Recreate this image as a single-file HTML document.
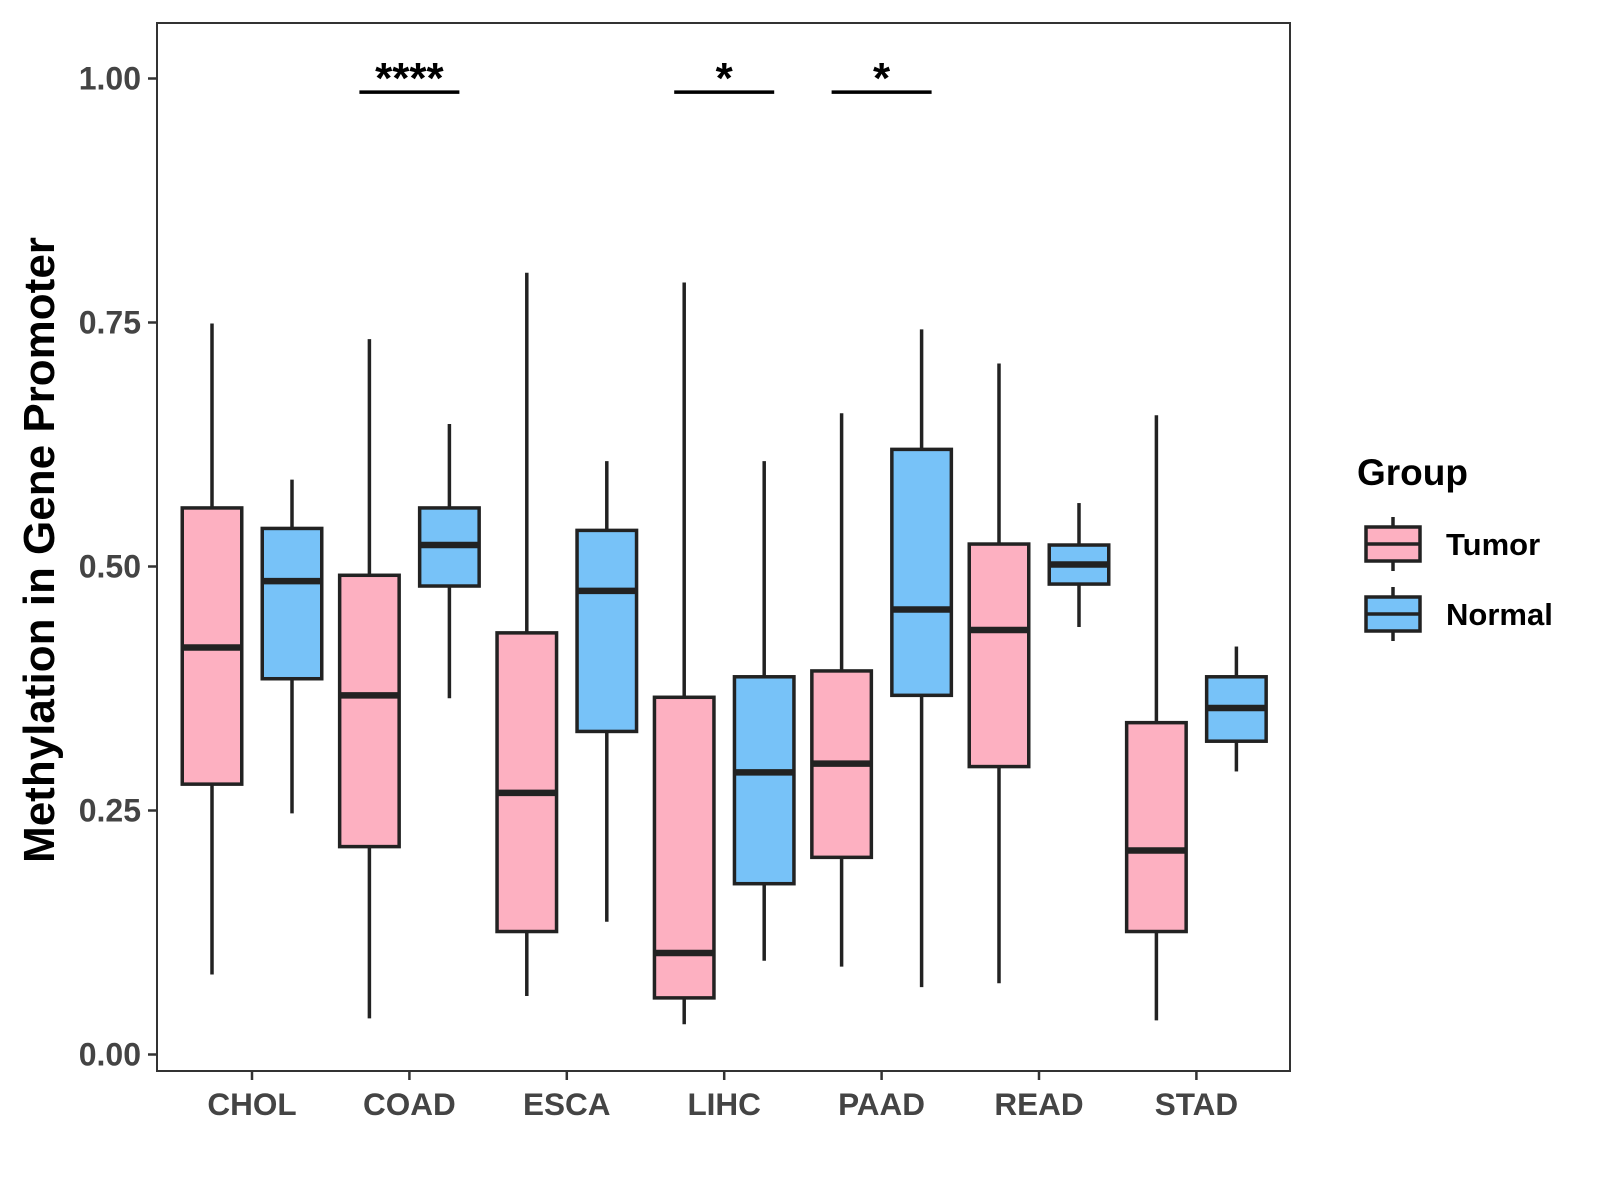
<!DOCTYPE html>
<html><head><meta charset="utf-8"><style>
body{margin:0;background:#fff}
svg{display:block;font-family:"Liberation Sans",Arial,sans-serif}
</style></head><body>
<svg id="chart" width="1600" height="1200"></svg>
<script>
const categories=["CHOL","COAD","ESCA","LIHC","PAAD","READ","STAD"];
const tumorLow=[0.082,0.037,0.060,0.031,0.090,0.073,0.035];
const tumorQ1=[0.277,0.213,0.126,0.058,0.202,0.295,0.126];
const tumorMed=[0.417,0.368,0.268,0.104,0.298,0.435,0.209];
const tumorQ3=[0.560,0.491,0.432,0.366,0.393,0.523,0.340];
const tumorHigh=[0.749,0.733,0.801,0.791,0.657,0.708,0.655];
const normalLow=[0.247,0.365,0.136,0.096,0.069,0.438,0.290];
const normalQ1=[0.385,0.480,0.331,0.175,0.368,0.482,0.321];
const normalMed=[0.485,0.522,0.475,0.289,0.456,0.502,0.355];
const normalQ3=[0.539,0.560,0.537,0.387,0.620,0.522,0.387];
const normalHigh=[0.589,0.646,0.608,0.608,0.743,0.565,0.418];
const yTicks=[0,0.25,0.5,0.75,1.0];
const yTickLabels=["0.00","0.25","0.50","0.75","1.00"];
const sigCats=["COAD","LIHC","PAAD"];
const sigLabels=["****","*","*"];

const NS="http://www.w3.org/2000/svg";
const svg=document.getElementById('chart');
const L=157,T=23,R=1290,B=1071;
const y=v=>1054.5-v*976;
const x=i=>252+i*157.4;
function el(tag,a,parent){const e=document.createElementNS(NS,tag);for(const k in a)e.setAttribute(k,a[k]);(parent||svg).appendChild(e);return e;}

const frame=el('rect',{x:L,y:T,width:R-L,height:B-T,fill:'none',stroke:'#333',"stroke-width":2});



yTicks.forEach((t,i)=>{
  const g=el('g',{});
  
  
  el('line',{x1:L-9,x2:L,y1:y(t),y2:y(t),stroke:'#333',"stroke-width":2.5},g);
  const tx=el('text',{x:L-16,y:y(t)+11,"text-anchor":"end","font-size":32,"font-weight":"bold",fill:'#444'},g);
  tx.textContent=yTickLabels[i];
});
categories.forEach((c,i)=>{
  const g=el('g',{});
  
  
  el('line',{x1:x(i),x2:x(i),y1:B,y2:B+9,stroke:'#333',"stroke-width":2.5},g);
  const tx=el('text',{x:x(i),y:B+44,"text-anchor":"middle","font-size":31.5,"font-weight":"bold",fill:'#444'},g);
  tx.textContent=c;
});
const yt=el('text',{x:0,y:0,transform:"translate(54,550) rotate(-90)","text-anchor":"middle","font-size":44,"font-weight":"bold",fill:'#000'});
yt.textContent="Methylation in Gene Promoter";



function box(cx,lo,q1,md,q3,hi,fill,name){
  const g=el('g',{});
  
  
  const w=59.5;
  el('line',{x1:cx,x2:cx,y1:y(hi),y2:y(q3),stroke:'#222',"stroke-width":3.5},g);
  el('line',{x1:cx,x2:cx,y1:y(q1),y2:y(lo),stroke:'#222',"stroke-width":3.5},g);
  el('rect',{x:cx-w/2,y:y(q3),width:w,height:y(q1)-y(q3),fill:fill,stroke:'#222',"stroke-width":3.5},g);
  el('line',{x1:cx-w/2,x2:cx+w/2,y1:y(md),y2:y(md),stroke:'#222',"stroke-width":6.5},g);
}
categories.forEach((c,i)=>{
  box(x(i)-40,tumorLow[i],tumorQ1[i],tumorMed[i],tumorQ3[i],tumorHigh[i],'#FDB0C1','box-tumor-'+c.toLowerCase());
  box(x(i)+40,normalLow[i],normalQ1[i],normalMed[i],normalQ3[i],normalHigh[i],'#77C2F8','box-normal-'+c.toLowerCase());
});
sigCats.forEach((c,k)=>{
  const i=categories.indexOf(c);
  const g=el('g',{});
  
  
  el('line',{x1:x(i)-50,x2:x(i)+50,y1:y(0.986),y2:y(0.986),stroke:'#000',"stroke-width":3.5},g);
  const tx=el('text',{x:x(i),y:y(0.986)+1,"text-anchor":"middle","font-size":44,"font-weight":"bold",fill:'#000'},g);
  tx.textContent=sigLabels[k];
});
const lg=el('g',{});


const lt=el('text',{x:1357,y:485,"font-size":37,"font-weight":"bold",fill:'#000'},lg);
lt.textContent="Group";
[["Tumor",'#FDB0C1',544],["Normal",'#77C2F8',614]].forEach(([n,f,cy])=>{
  const g=el('g',{},lg);
  
  
  el('line',{x1:1393,x2:1393,y1:cy-27,y2:cy+27,stroke:'#222',"stroke-width":3.5},g);
  el('rect',{x:1366,y:cy-17,width:54,height:34,fill:f,stroke:'#222',"stroke-width":3.5},g);
  el('line',{x1:1366,x2:1420,y1:cy,y2:cy,stroke:'#222',"stroke-width":3.5},g);
  const tx=el('text',{x:1446,y:cy+11,"font-size":31,"font-weight":"bold",fill:'#000'},g);
  tx.textContent=n;
});
</script>
</body></html>
